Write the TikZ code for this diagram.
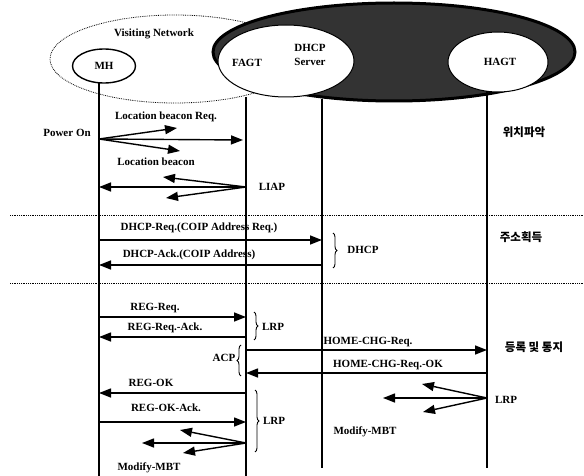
\documentclass[tikz,border=0pt]{standalone}
\usepackage{fontspec}
\setmainfont{Liberation Serif}
\newfontfamily\krfont{Noto Sans CJK KR}
\usetikzlibrary{arrows.meta,decorations.pathreplacing,shapes.geometric}
\begin{document}
\begin{tikzpicture}[x=1pt,y=-1pt,
  every node/.style={font=\bfseries\fontsize{11}{14}\selectfont, inner sep=0pt},
  msg/.style={line width=1.4pt,-{Triangle[length=12pt,width=9pt]}},
  life/.style={line width=1.4pt},
  sep/.style={line width=0.8pt, dash pattern=on 0.8pt off 1pt},
  brc/.style={decorate,decoration={brace,amplitude=4pt},line width=0.9pt},
  kr/.style={font=\krfont\bfseries\fontsize{11.5}{13}\selectfont}]
\useasboundingbox (0,0) rectangle (584,476);

% network areas
\draw[sep] (175,59) ellipse [x radius=125pt, y radius=44pt];
\draw[line width=3pt, fill=black!80] (394,52) ellipse [x radius=181pt, y radius=49pt];
\node[ellipse, draw, line width=1.4pt, fill=white, minimum width=63pt, minimum height=34pt] (mh) at (104,66) {};
\node[ellipse, draw, line width=1pt, fill=white, minimum width=136pt, minimum height=72pt] (fd) at (286,61) {};
\node[ellipse, draw, line width=1pt, fill=white, minimum width=100pt, minimum height=60pt] (ha) at (498,62) {};

\node (vn) at (154,34) {Visiting Network};
\node (mhl) at (104,66) {MH};
\node (fagt) at (247,63) {FAGT};
\node[align=center] (dhcp) at (310,55) {DHCP\\Server};
\node (hagt) at (500,62) {HAGT};

% lifelines
\coordinate (MH) at (99,83);  \coordinate (MHb) at (99,476);
\coordinate (FA) at (246,97); \coordinate (FAb) at (246,476);
\coordinate (DH) at (322,99); \coordinate (DHb) at (322,468);
\coordinate (HA) at (487,91); \coordinate (HAb) at (487,468);
\draw[life] (MH) -- (MHb);
\draw[life] (FA) -- (FAb);
\draw[life] (DH) -- (DHb);
\draw[life] (HA) -- (HAb);

% separators
\coordinate (s1a) at (10,215); \coordinate (s1b) at (584,215);
\coordinate (s2a) at (10,283); \coordinate (s2b) at (584,283);
\draw[sep] (s1a) -- (s1b);
\draw[sep] (s2a) -- (s2b);

% phase labels
\node[kr] (k1) at (524,132) {위치파악};
\node[kr] (k2) at (521,237) {주소획득};
\node[kr] (k3) at (534,347) {등록 및 통지};

% location beacon
\node (pon) at (67,133) {Power On};
\coordinate (o1) at (MH |- 0,139);
\coordinate (t1a) at (177,128);
\coordinate (t1c) at (180,151);
\draw[msg] (o1) -- (t1a);
\draw[msg] (o1) -- ([xshift=-3pt]FA |- 0,140);
\draw[msg] (o1) -- (t1c);
\node (lbr) at (166,117) {Location beacon Req.};
\node (lb) at (156,162) {Location beacon};
\coordinate (o2) at (FA |- 0,187);
\coordinate (t2a) at (163,177);
\coordinate (t2c) at (166,198);
\draw[msg] (o2) -- (t2a);
\draw[msg] (o2) -- (MH |- 0,187);
\draw[msg] (o2) -- (t2c);
\node (liap) at (272,187) {LIAP};

% DHCP
\node (dreq) at (199,228) {DHCP-Req.(COIP Address Req.)};
\draw[msg] (MH |- 0,240) -- (DH |- 0,240);
\node (dack) at (189,255) {DHCP-Ack.(COIP Address)};
\draw[msg] (DH |- 0,265) -- (MH |- 0,265);
\coordinate (b1a) at (333,233); \coordinate (b1b) at (333,268);
\draw[brc] (b1a) -- (b1b);
\node (dh) at (363,250) {DHCP};

% registration
\node (rr) at (155,308) {REG-Req.};
\draw[msg] (MH |- 0,317) -- (FA |- 0,317);
\node (rra) at (165,328) {REG-Req.-Ack.};
\draw[msg] (FA |- 0,337) -- (MH |- 0,337);
\coordinate (b2a) at (254,312); \coordinate (b2b) at (254,340);
\draw[brc] (b2a) -- (b2b);
\node (lrp1) at (273,327) {LRP};

\node (hc) at (368,342) {HOME-CHG-Req.};
\draw[msg] (FA |- 0,350) -- (HA |- 0,350);
\node (hco) at (388,365) {HOME-CHG-Req.-OK};
\draw[msg] (HA |- 0,373) -- (FA |- 0,373);
\coordinate (b3a) at (241,376); \coordinate (b3b) at (241,345);
\draw[brc] (b3a) -- (b3b);
\node (acp) at (224,358) {ACP};

\node (ro) at (151,383) {REG-OK};
\draw[msg] (FA |- 0,393) -- (MH |- 0,393);
\node (roa) at (166,408) {REG-OK-Ack.};
\draw[msg] (MH |- 0,422) -- (FA |- 0,422);
\coordinate (b4a) at (255,390); \coordinate (b4b) at (255,452);
\draw[brc] (b4a) -- (b4b);
\node (lrp2) at (274,421) {LRP};

\coordinate (o3) at (FA |- 0,443);
\coordinate (t3a) at (180,430);
\coordinate (t3b) at (142,443);
\coordinate (t3c) at (183,453);
\draw[msg] (o3) -- (t3a);
\draw[msg] (o3) -- (t3b);
\draw[msg] (o3) -- (t3c);
\node (mm1) at (149,468) {Modify-MBT};

\coordinate (o4) at (HA |- 0,398);
\coordinate (t4a) at (422,384);
\coordinate (t4b) at (383,398);
\coordinate (t4c) at (423,412);
\draw[msg] (o4) -- (t4a);
\draw[msg] (o4) -- (t4b);
\draw[msg] (o4) -- (t4c);
\node (lrp3) at (506,400) {LRP};
\node (mm2) at (365,432) {Modify-MBT};
\end{tikzpicture}
\end{document}
